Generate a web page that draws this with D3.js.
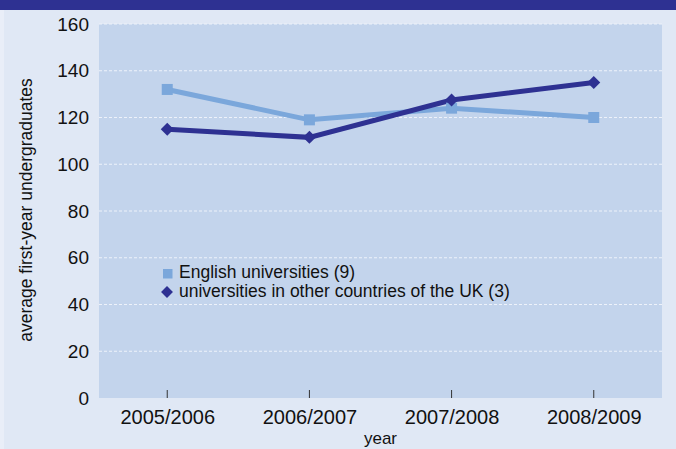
<!DOCTYPE html>
<html><head><meta charset="utf-8">
<script src="https://cdn.jsdelivr.net/npm/d3@7"></script>
<style>html,body{margin:0;padding:0;background:#e0e8f5;}svg{display:block;}</style>
</head><body><svg id="c" width="676" height="449"></svg>
<script>
const categories = ["2005/2006","2006/2007","2007/2008","2008/2009"];
const english = [132, 119, 124, 120];
const otherUK = [115, 111.5, 127.5, 135];
const yTicks = [0,20,40,60,80,100,120,140,160];
const seriesNames = ["English universities (9)","universities in other countries of the UK (3)"];

const svg = d3.select("#c");
const W=676,H=449;
const m={l:99,r:662,t:24,b:398};
svg.append("rect").attr("width",W).attr("height",H).attr("fill","#e0e8f5");
svg.append("rect").attr("width",4).attr("height",H).attr("fill","#e9eef8");
svg.append("rect").attr("width",W).attr("height",10).attr("fill","#2e3192");
svg.append("rect").attr("x",m.l).attr("y",m.t).attr("width",m.r-m.l).attr("height",m.b-m.t).attr("fill","#c3d4ec");

const x=d3.scalePoint().domain(categories).range([m.l,m.r]).padding(0.48);
const y=d3.scaleLinear().domain([0,160]).range([m.b,m.t]);
const font="'Liberation Sans', Arial, sans-serif";

// grid
svg.append("g").selectAll("line").data(yTicks.filter(d=>d>0)).join("line")
 .attr("x1",m.l).attr("x2",m.r).attr("y1",d=>y(d)).attr("y2",d=>y(d))
 .attr("stroke","#eef2fa").attr("stroke-width",1.2).attr("stroke-dasharray","3,2");

// y axis labels
const ya=svg.append("g").attr("transform",`translate(${m.l},0)`).call(d3.axisLeft(y).tickValues(yTicks).tickSize(0).tickPadding(10));
ya.select(".domain").remove();
ya.selectAll("text").attr("font-family",font).attr("font-size",19).attr("fill","#111");

// x axis
const xa=svg.append("g").attr("transform",`translate(0,${m.b})`).call(d3.axisBottom(x).tickSize(0));
xa.select(".domain").remove();
xa.selectAll("text").attr("font-family",font).attr("font-size",20).attr("fill","#111").attr("dy",null).attr("y",26);
svg.append("g").selectAll("line").data(categories).join("line")
 .attr("x1",d=>x(d)).attr("x2",d=>x(d)).attr("y1",m.b).attr("y2",m.b-8)
 .attr("stroke","#333").attr("stroke-width",1);

// titles
svg.append("text").attr("x",(m.l+m.r)/2).attr("y",444).attr("text-anchor","middle")
 .attr("font-family",font).attr("font-size",17).attr("fill","#111").text("year");
svg.append("text").attr("transform",`translate(32,${210}) rotate(-90)`).attr("text-anchor","middle")
 .attr("font-family",font).attr("font-size",17.5).attr("fill","#111").text("average first-year undergraduates");

const line=d3.line().x((d,i)=>x(categories[i])).y(d=>y(d));
const c1="#7ba7db", c2="#2e3192";
svg.append("path").attr("d",line(english)).attr("fill","none").attr("stroke",c1).attr("stroke-width",5);
svg.append("path").attr("d",line(otherUK)).attr("fill","none").attr("stroke",c2).attr("stroke-width",5);
svg.append("g").selectAll("rect").data(english).join("rect")
 .attr("x",(d,i)=>x(categories[i])-5.5).attr("y",d=>y(d)-5.5).attr("width",11).attr("height",11).attr("fill",c1);
svg.append("g").selectAll("rect").data(otherUK).join("rect")
 .attr("x",-4.6).attr("y",-4.6).attr("width",9.2).attr("height",9.2)
 .attr("transform",(d,i)=>`translate(${x(categories[i])},${y(d)}) rotate(45)`).attr("fill",c2);

// legend
const lg=svg.append("g");
lg.append("rect").attr("x",163).attr("y",269).attr("width",9.5).attr("height",9.5).attr("fill",c1);
lg.append("rect").attr("x",-4.2).attr("y",-4.2).attr("width",8.4).attr("height",8.4).attr("transform","translate(167,292) rotate(45)").attr("fill",c2);
lg.selectAll("text").data(seriesNames).join("text")
 .attr("x",179).attr("y",(d,i)=>278+i*19).attr("font-family",font).attr("font-size",17.5).attr("fill","#111").text(d=>d);
</script></body></html>
